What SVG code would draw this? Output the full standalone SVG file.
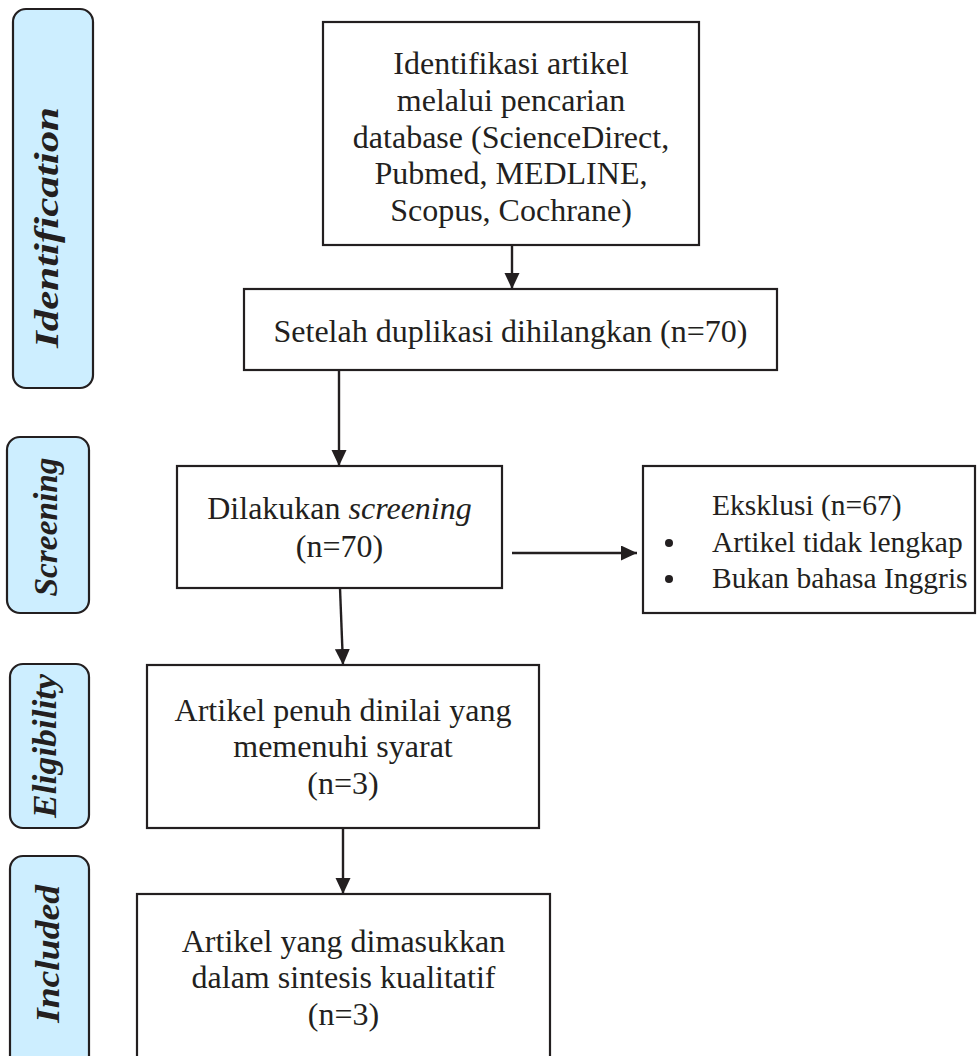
<svg xmlns="http://www.w3.org/2000/svg" width="977" height="1056" viewBox="0 0 977 1056">
<style>
.box{fill:#ffffff;stroke:#231f20;stroke-width:2.2}
.lbl{fill:#cdeeff;stroke:#231f20;stroke-width:2.2}
.t{font-family:"Liberation Serif","Times New Roman",serif;font-size:32px;fill:#231f20;text-anchor:middle}
.tl{font-family:"Liberation Serif","Times New Roman",serif;font-size:29.5px;fill:#231f20}
.side{font-family:"Liberation Serif","Times New Roman",serif;font-size:33px;font-weight:bold;font-style:italic;fill:#231f20;text-anchor:middle}
.con{stroke:#231f20;stroke-width:2.4;fill:none}
</style>
<defs>
<marker id="ah" markerUnits="userSpaceOnUse" markerWidth="16" markerHeight="16" refX="16" refY="7.5" orient="auto">
<path d="M0,0 L16,7.5 L0,15 z" fill="#231f20"/>
</marker>
</defs>

<g id="label-identification">
<rect class="lbl" x="13" y="9" width="80" height="379" rx="13"/>
<text class="side" transform="translate(58,227.5) rotate(-90)" textLength="241" lengthAdjust="spacingAndGlyphs">Identification</text>
</g>
<g id="label-screening">
<rect class="lbl" x="7" y="437" width="82" height="176" rx="13"/>
<text class="side" transform="translate(57,527) rotate(-90)" textLength="139" lengthAdjust="spacingAndGlyphs">Screening</text>
</g>
<g id="label-eligibility">
<rect class="lbl" x="10" y="664" width="79" height="164" rx="13"/>
<text class="side" transform="translate(56,746) rotate(-90)" textLength="144" lengthAdjust="spacingAndGlyphs">Eligibility</text>
</g>
<g id="label-included">
<rect class="lbl" x="10" y="856" width="79" height="220" rx="13"/>
<text class="side" transform="translate(59,954) rotate(-90)" textLength="138" lengthAdjust="spacingAndGlyphs">Included</text>
</g>

<g id="box-identifikasi">
<rect class="box" x="323" y="22" width="376" height="223"/>
<text class="t" x="511" y="74">Identifikasi artikel</text>
<text class="t" x="511" y="111">melalui pencarian</text>
<text class="t" x="511" y="148">database (ScienceDirect,</text>
<text class="t" x="511" y="184">Pubmed, MEDLINE,</text>
<text class="t" x="511" y="221">Scopus, Cochrane)</text>
</g>
<g id="box-duplikasi">
<rect class="box" x="244" y="289" width="533" height="81"/>
<text class="t" x="510.5" y="342">Setelah duplikasi dihilangkan (n=70)</text>
</g>
<g id="box-screening">
<rect class="box" x="177" y="466" width="325" height="122"/>
<text class="t" x="339.5" y="519">Dilakukan <tspan font-style="italic">screening</tspan></text>
<text class="t" x="339.5" y="557">(n=70)</text>
</g>
<g id="box-eksklusi">
<rect class="box" x="643" y="466" width="332" height="147"/>
<text class="tl" x="712" y="515" font-size="31.5">Eksklusi (n=67)</text>
<circle cx="669" cy="543" r="4" fill="#231f20"/>
<text class="tl" x="712" y="552">Artikel tidak lengkap</text>
<circle cx="669" cy="579" r="4" fill="#231f20"/>
<text class="tl" x="712" y="588">Bukan bahasa Inggris</text>
</g>
<g id="box-eligibility">
<rect class="box" x="147" y="665" width="392" height="163"/>
<text class="t" x="343" y="721">Artikel penuh dinilai yang</text>
<text class="t" x="343" y="757">memenuhi syarat</text>
<text class="t" x="343" y="794">(n=3)</text>
</g>
<g id="box-included">
<rect class="box" x="137" y="894" width="413" height="180"/>
<text class="t" x="343.5" y="952">Artikel yang dimasukkan</text>
<text class="t" x="343.5" y="988">dalam sintesis kualitatif</text>
<text class="t" x="343.5" y="1025">(n=3)</text>
</g>

<g id="connectors">
<line class="con" x1="512" y1="245" x2="512" y2="289" marker-end="url(#ah)"/>
<line class="con" x1="339" y1="370" x2="339" y2="466" marker-end="url(#ah)"/>
<line class="con" x1="512" y1="553" x2="637" y2="553" marker-end="url(#ah)"/>
<line class="con" x1="340" y1="588" x2="343" y2="665" marker-end="url(#ah)"/>
<line class="con" x1="343" y1="828" x2="343" y2="894" marker-end="url(#ah)"/>
</g>
</svg>
